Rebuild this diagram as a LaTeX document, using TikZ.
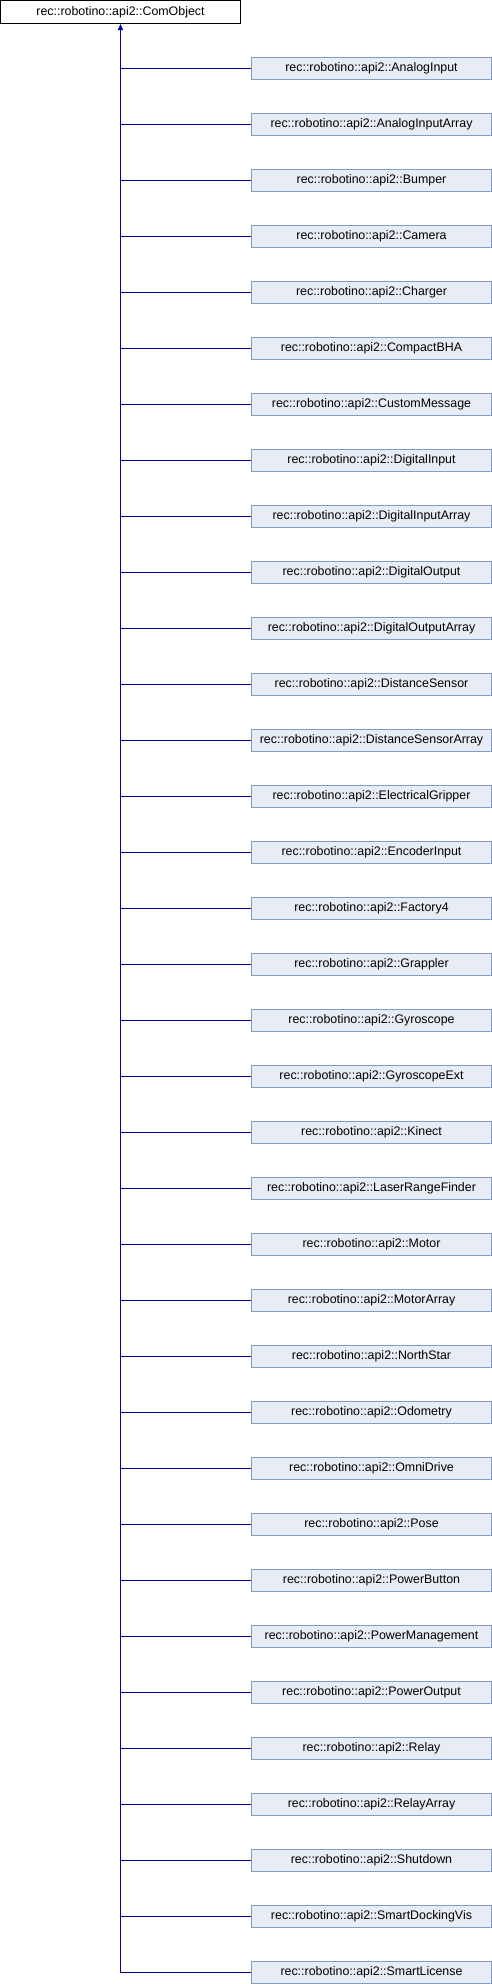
\documentclass[tikz,border=0pt]{standalone}
\usepackage{fontspec}
\setmainfont{Liberation Sans}
\usetikzlibrary{arrows.meta}
\definecolor{edgeblue}{RGB}{0,0,150}
\definecolor{boxfill}{RGB}{232,236,244}
\definecolor{boxline}{RGB}{132,155,201}

\begin{document}
\begin{tikzpicture}[x=1pt, y=1pt]
    \tikzset{BaseStyle/.style={draw=black, fill=white, line width=1pt, minimum width=240pt, minimum height=23pt, inner sep=0pt, font=\fontsize{12.4}{14}\selectfont}}
    \tikzset{ClassStyle/.style={draw=boxline, fill=boxfill, line width=1pt, minimum width=240pt, minimum height=22pt, inner sep=0pt, font=\fontsize{12.4}{14}\selectfont}}
    \tikzset{EdgeStyle/.style={draw=edgeblue, line width=1pt}}
    \useasboundingbox (0,0) rectangle (492,-1984);

    \node[BaseStyle] (ComObject) at (120.5,-12) {rec::robotino::api2::ComObject};

    \foreach \name [count=\i] in {AnalogInput, AnalogInputArray, Bumper, Camera, Charger,
        CompactBHA, CustomMessage, DigitalInput, DigitalInputArray, DigitalOutput,
        DigitalOutputArray, DistanceSensor, DistanceSensorArray, ElectricalGripper,
        EncoderInput, Factory4, Grappler, Gyroscope, GyroscopeExt, Kinect,
        LaserRangeFinder, Motor, MotorArray, NorthStar, Odometry, OmniDrive, Pose,
        PowerButton, PowerManagement, PowerOutput, Relay, RelayArray, Shutdown,
        SmartDockingVis, SmartLicense}
        \node[ClassStyle] (C\i) at (371.5,{-68-56*(\i-1)}) {rec::robotino::api2::\name};

    \draw[EdgeStyle, -{Triangle[length=6pt, width=5pt]}] (C35.west) -| (ComObject.south);
    \foreach \i in {1,...,34}
        \draw[EdgeStyle] (C\i.west) -- (C\i.west -| ComObject.south);
\end{tikzpicture}
\end{document}
